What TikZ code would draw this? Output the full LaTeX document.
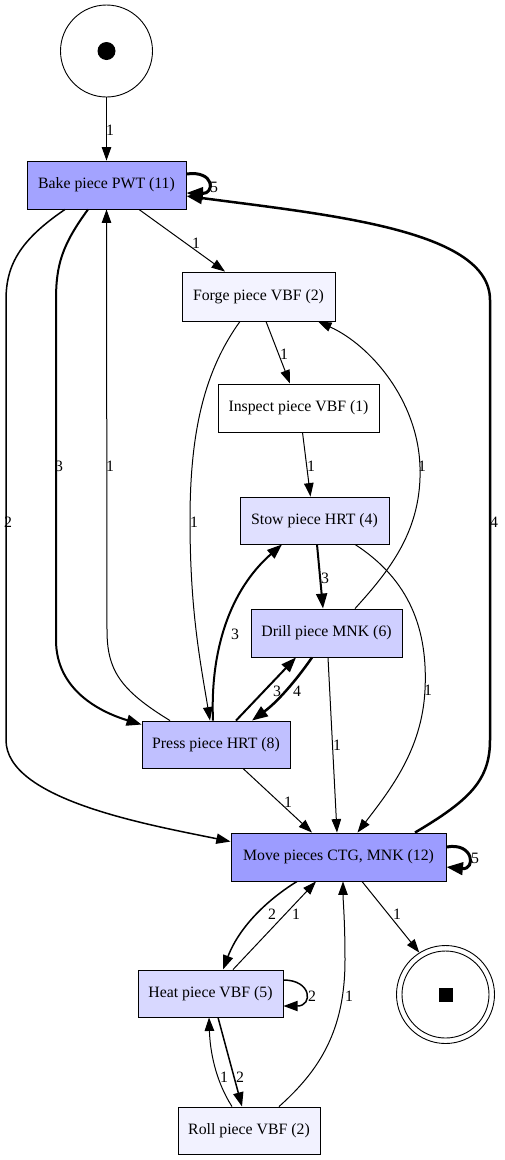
\documentclass[tikz,border=0pt]{standalone}
\usepackage{fontspec}
\setmainfont{Liberation Serif}
\usetikzlibrary{arrows.meta}
\definecolor{cbake}{RGB}{163,163,255}
\definecolor{cmove}{RGB}{156,156,255}
\definecolor{cpress}{RGB}{192,192,255}
\definecolor{cdrill}{RGB}{207,207,255}
\definecolor{cheat}{RGB}{216,216,255}
\definecolor{cstow}{RGB}{224,224,255}
\definecolor{cforge}{RGB}{243,243,255}
\definecolor{croll}{RGB}{242,242,255}
\tikzset{
  trans/.style={draw=black, line width=0.9pt, inner sep=0pt, font=\fontsize{15.8}{18}\selectfont, text=black},
  lbl/.style={font=\fontsize{15.8}{18}\selectfont, inner sep=0pt, text=black},
  arr/.style={-{Triangle[length=12pt 1.5,width=8pt 1.5]}, line width=1pt, draw=black},
  wtwo/.style={line width=1.5pt},
  wthree/.style={line width=2pt},
  wfour/.style={line width=2.5pt},
  wfive/.style={line width=3pt},
}
\begin{document}
\begin{tikzpicture}[x=1pt,y=-1pt]
\fill[white] (0,0) rectangle (504,1160);
\useasboundingbox (0,0) rectangle (504,1160);

% places
\node[circle, draw=black, line width=0.9pt, minimum size=92pt, inner sep=0pt] (start) at (106.5,51) {};
\fill[black] (start.center) circle (9pt);
\node[circle, draw=black, line width=0.9pt, minimum size=98pt, inner sep=0pt] (end) at (445.5,994.5) {};
\node[circle, draw=black, line width=0.9pt, minimum size=87pt, inner sep=0pt] (endin) at (445.5,994.5) {};
\fill[black] ([xshift=-7pt,yshift=-7pt]end.center) rectangle ([xshift=7pt,yshift=7pt]end.center);

% transitions
\node[trans, fill=cbake, minimum width=159pt, minimum height=48pt] (bake) at (106.5,185) {Bake piece PWT (11)};
\node[trans, fill=cforge, minimum width=153pt, minimum height=49pt] (forge) at (258.5,296.5) {Forge piece VBF (2)};
\node[trans, fill=white, minimum width=161pt, minimum height=48pt] (inspect) at (298.5,408) {Inspect piece VBF (1)};
\node[trans, fill=cstow, minimum width=149pt, minimum height=47pt] (stow) at (314.5,520.5) {Stow piece HRT (4)};
\node[trans, fill=cdrill, minimum width=151pt, minimum height=48pt] (drill) at (326.5,633) {Drill piece MNK (6)};
\node[trans, fill=cpress, minimum width=148pt, minimum height=47pt] (press) at (216,744.5) {Press piece HRT (8)};
\node[trans, fill=cmove, minimum width=215pt, minimum height=48pt] (move) at (338.5,857) {Move pieces CTG, MNK (12)};
\node[trans, fill=cheat, minimum width=145pt, minimum height=47pt] (heat) at (210.5,993.5) {Heat piece VBF (5)};
\node[trans, fill=croll, minimum width=142pt, minimum height=47pt] (roll) at (249,1130.5) {Roll piece VBF (2)};

% edges
\draw[arr] (start) -- (bake) node[lbl] at (110,130) {1};
\draw[arr, wfive] ([yshift=11pt]bake.east) .. controls (215,170) and (215,194) .. ([yshift=-8pt]bake.east) node[lbl] at (214,187) {5};
\draw[arr] ([xshift=32.5pt]bake.south) -- ([xshift=-33.5pt]forge.north) node[lbl] at (196,243) {1};
\draw[arr, wthree] ([xshift=-18.5pt]bake.south) .. controls (62,245) and (56,265) .. (56,300) -- (56,640) .. controls (56,690) and (100,712) .. ([yshift=-4pt]press.north west) node[lbl] at (59,466) {3};
\draw[arr] ([xshift=-46pt]press.north) .. controls (120,690) and (107,670) .. (107,630) -- (bake.south) node[lbl] at (110,466) {1};
\draw[arr, wtwo] ([xshift=-41.5pt]bake.south) .. controls (20,240) and (6,265) .. (6,300) -- (6,740) .. controls (6,800) and (150,825) .. ([yshift=-9pt]move.north west) node[lbl] at (8,522) {2};
\draw[arr, wfour] ([xshift=76.5pt]move.north) .. controls (470,800) and (490,780) .. (490,740) -- (490,300) .. controls (490,230) and (330,215) .. ([yshift=-11pt]bake.east) node[lbl] at (494,522) {4};
\draw[arr] ([xshift=-18.5pt]forge.south) .. controls (205,370) and (190,430) .. (190,520) .. controls (190,610) and (200,660) .. ([xshift=-6pt]press.north) node[lbl] at (194,522) {1};
\draw[arr] ([xshift=7.5pt]forge.south) -- ([xshift=-8.5pt]inspect.north) node[lbl] at (284,354) {1};
\draw[arr] ([xshift=28.5pt]drill.north) .. controls (390,570) and (422,530) .. (420,467) .. controls (418,400) and (370,345) .. ([xshift=59.5pt]forge.south) node[lbl] at (422,466) {1};
\draw[arr] ([xshift=4pt]inspect.south) -- ([xshift=-4pt]stow.north) node[lbl] at (311,466) {1};
\draw[arr, wthree] ([xshift=2.5pt]stow.south) -- ([xshift=-3.5pt]drill.north) node[lbl] at (325,578) {3};
\draw[arr, wthree] ([xshift=-3pt]press.north) .. controls (210,650) and (230,590) .. ([xshift=-32.5pt]stow.south) node[lbl] at (235,634) {3};
\draw[arr, wthree] ([xshift=20pt]press.north) -- ([xshift=-30.5pt]drill.south) node[lbl] at (277,691) {3};
\draw[arr, wfour] ([xshift=-14.5pt]drill.south) .. controls (300,675) and (280,700) .. ([xshift=36pt]press.north) node[lbl] at (297,691) {4};
\draw[arr] ([xshift=40.5pt]stow.south) .. controls (410,580) and (428,630) .. (425,690) .. controls (422,750) and (390,790) .. ([xshift=19pt]move.north) node[lbl] at (428,690) {1};
\draw[arr] ([xshift=1.5pt]drill.south) -- ([xshift=-1.5pt]move.north) node[lbl] at (337,745) {1};
\draw[arr] ([xshift=27pt]press.south) -- ([xshift=-26.5pt]move.north) node[lbl] at (288,802) {1};
\draw[arr, wfive] ([yshift=10pt]move.east) .. controls (474,842) and (476,870) .. ([yshift=-10pt]move.east) node[lbl] at (475,858) {5};
\draw[arr, wtwo] ([xshift=-41.5pt]move.south) .. controls (270,898) and (240,925) .. ([xshift=12.5pt]heat.north) node[lbl] at (272,914) {2};
\draw[arr] ([xshift=22.5pt]heat.north) -- ([xshift=-22.5pt]move.south) node[lbl] at (296,914) {1};
\draw[arr] ([xshift=23.5pt]move.south) -- (end.122) node[lbl] at (397,914) {1};
\draw[arr, wtwo] ([yshift=13.5pt]heat.east) .. controls (312,980) and (313,1006) .. ([yshift=-12.5pt]heat.east) node[lbl] at (312,996) {2};
\draw[arr, wtwo] ([xshift=7.5pt]heat.south) -- ([xshift=-7pt]roll.north) node[lbl] at (240,1077) {2};
\draw[arr] ([xshift=-17pt]roll.north) .. controls (215,1080) and (210,1050) .. ([xshift=-1.5pt]heat.south) node[lbl] at (224,1077) {1};
\draw[arr] ([xshift=30pt]roll.north) .. controls (320,1070) and (345,1030) .. (345,960) .. controls (345,920) and (343,900) .. ([xshift=4.5pt]move.south) node[lbl] at (349,996) {1};
\end{tikzpicture}
\end{document}
